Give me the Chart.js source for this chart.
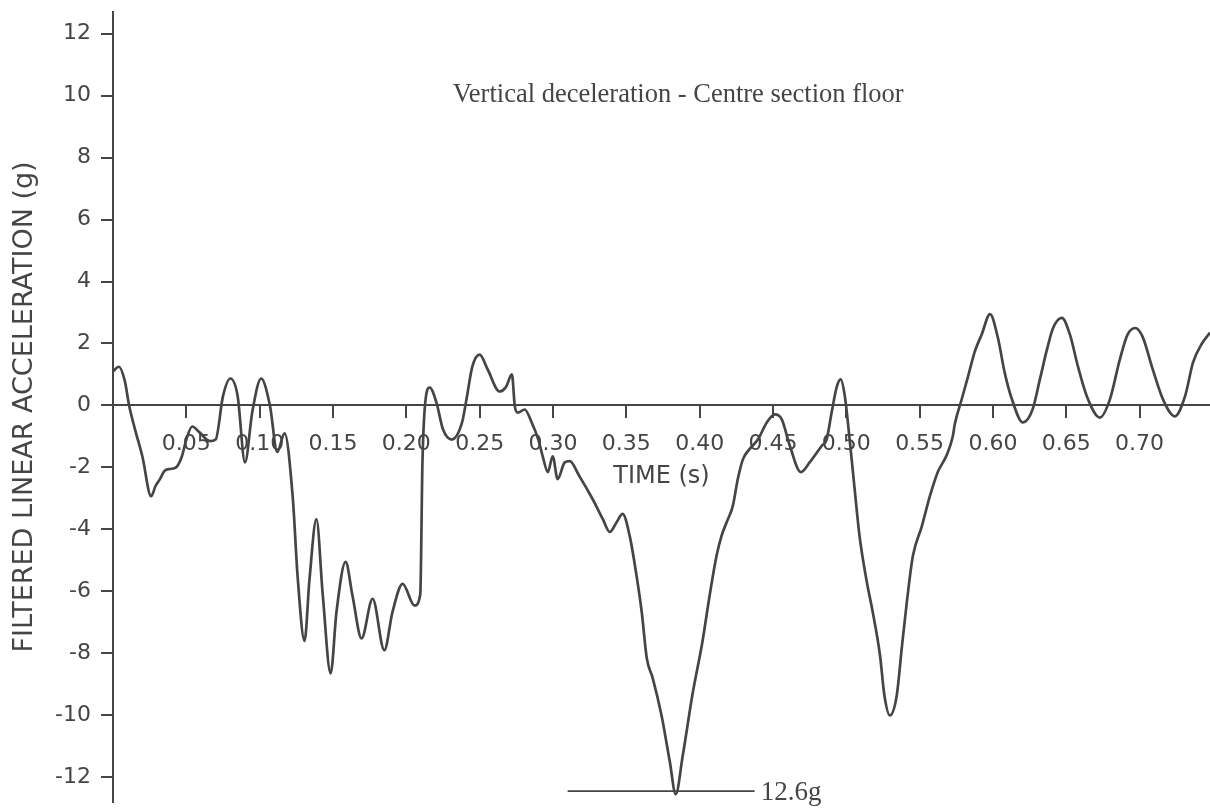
<!DOCTYPE html>
<html>
<head>
<meta charset="utf-8">
<script src="https://cdn.jsdelivr.net/npm/chart.js@4.4.1/dist/chart.umd.min.js"></script>
<style>
  html, body { margin: 0; padding: 0; background: #fff; }
  canvas { display: block; }
</style>
</head>
<body>
<canvas id="chart" width="1210" height="809"></canvas>
<script>
// Time (s) and filtered vertical acceleration (g)
const timeS = [
  0, 0.004, 0.008, 0.011, 0.015, 0.020, 0.026, 0.029, 0.032, 0.035,
  0.039, 0.043, 0.047, 0.050, 0.054, 0.059, 0.066, 0.070, 0.075, 0.080,
  0.085, 0.090, 0.095, 0.101, 0.107, 0.112, 0.117, 0.1225, 0.126, 0.1306,
  0.134, 0.1387, 0.143, 0.1484, 0.1524, 0.1586, 0.1633, 0.1695, 0.177, 0.185,
  0.1906, 0.1975, 0.2056, 0.2095, 0.2110, 0.2124, 0.2159, 0.2205, 0.225, 0.231,
  0.238, 0.241, 0.245, 0.250, 0.2555, 0.2635, 0.268, 0.272, 0.274, 0.276,
  0.2807, 0.2855, 0.290, 0.293, 0.2965, 0.2998, 0.3032, 0.308, 0.3114, 0.318,
  0.327, 0.334, 0.3387, 0.3435, 0.3475, 0.3523, 0.357, 0.3605, 0.364, 0.368,
  0.374, 0.3796, 0.3837, 0.3885, 0.395, 0.402, 0.4068, 0.4115, 0.415, 0.4185,
  0.4226, 0.426, 0.4295, 0.434, 0.4397, 0.4458, 0.4513, 0.456, 0.4615, 0.469,
  0.475, 0.4833, 0.4866, 0.490, 0.4935, 0.4962, 0.499, 0.5023, 0.5057, 0.509,
  0.514, 0.518, 0.523, 0.526, 0.5297, 0.5344, 0.538, 0.5413, 0.5454, 0.5515,
  0.557, 0.5624, 0.5685, 0.5726, 0.574, 0.5787, 0.583, 0.5876, 0.5924, 0.598,
  0.6033, 0.608, 0.613, 0.6204, 0.627, 0.632, 0.6368, 0.641, 0.647, 0.6524,
  0.658, 0.664, 0.6729, 0.6797, 0.6865, 0.6917, 0.697, 0.702, 0.709, 0.716,
  0.724, 0.731, 0.7364, 0.7425, 0.748
];
const accelG = [
  1.1, 1.25, 0.8, 0.0, -0.77, -1.64, -2.93, -2.6, -2.38, -2.12,
  -2.05, -2.0, -1.64, -1.1, -0.68, -0.87, -1.15, -1.1, 0.3, 0.87,
  0.3, -1.84, -0.2, 0.87, 0.0, -1.5, -0.9, -2.93, -5.6, -7.6,
  -5.6, -3.67, -6.1, -8.65, -6.66, -5.05, -6.14, -7.52, -6.24, -7.9,
  -6.66, -5.76, -6.46, -6.1, -1.84, -0.2, 0.58, 0.1, -0.77, -1.1,
  -0.55, 0.19, 1.25, 1.64, 1.16, 0.45, 0.6, 1.0, -0.03, -0.23,
  -0.13, -0.55, -1.1, -1.64, -2.15, -1.64, -2.38, -1.84, -1.8, -2.28,
  -3.02, -3.67, -4.08, -3.76, -3.5, -4.21, -5.5, -6.66, -8.17, -8.8,
  -10.0, -11.48, -12.55, -11.3, -9.36, -7.6, -6.14, -4.86, -4.2, -3.76,
  -3.25, -2.38, -1.74, -1.41, -1.1, -0.55, -0.29, -0.45, -1.3, -2.15,
  -1.84, -1.3, -1.1, -0.23, 0.6, 0.84, 0.3, -1.1, -2.7, -4.2,
  -5.7, -6.66, -8.07, -9.36, -10.0, -9.36, -7.75, -6.34, -4.86, -3.9,
  -2.93, -2.15, -1.6, -1.0, -0.6, 0.2, 0.93, 1.74, 2.3, 2.95,
  2.2, 1.06, 0.19, -0.55, -0.13, 0.84, 1.8, 2.5, 2.83, 2.3,
  1.25, 0.3, -0.39, 0.19, 1.48, 2.28, 2.5, 2.22, 1.16, 0.19,
  -0.35, 0.3, 1.38, 2.0, 2.35
];

// peak marker line and its label
const peakLineTime = [0.31, 0.4375];
const peakLineLevel = [-12.45, -12.45];
const peakLabel = '12.6g';
const chartNote = 'Vertical deceleration - Centre section floor';

const xTickValues = [0.05, 0.10, 0.15, 0.20, 0.25, 0.30, 0.35, 0.40, 0.45, 0.50, 0.55, 0.60, 0.65, 0.70];
const yTickValues = [-12, -10, -8, -6, -4, -2, 0, 2, 4, 6, 8, 10, 12];

const ink = '#454545';

// text drawn inside the plot (note + peak label)
const notesPlugin = {
  id: 'notes',
  afterDatasetsDraw(chart) {
    const { ctx, scales } = chart;
    ctx.save();
    ctx.fillStyle = ink;
    ctx.textAlign = 'left';
    ctx.textBaseline = 'alphabetic';
    ctx.font = '26.5px "Liberation Serif", "Times New Roman", serif';
    ctx.fillText(chartNote, scales.x.getPixelForValue(0.2316), scales.y.getPixelForValue(9.8));
    ctx.font = '27px "Liberation Serif", "Times New Roman", serif';
    ctx.fillText(peakLabel, scales.x.getPixelForValue(peakLineTime[1]) + 6, scales.y.getPixelForValue(peakLineLevel[1]) + 9);
    ctx.restore();
  }
};

// drop the label overhang padding so the plot fills the frame
function noPad(scale) {
  scale.paddingTop = 0;
  scale.paddingBottom = 0;
  scale.paddingLeft = 0;
  scale.paddingRight = 0;
}

const ctx = document.getElementById('chart').getContext('2d');
new Chart(ctx, {
  type: 'line',
  data: {
    datasets: [
      {
        data: timeS.map((t, i) => ({ x: t, y: accelG[i] })),
        borderColor: ink,
        borderWidth: 2.7,
        pointRadius: 0,
        cubicInterpolationMode: 'monotone',
        fill: false
      },
      {
        data: peakLineTime.map((t, i) => ({ x: t, y: peakLineLevel[i] })),
        borderColor: ink,
        borderWidth: 1.6,
        pointRadius: 0,
        fill: false
      }
    ]
  },
  options: {
    responsive: false,
    animation: false,
    layout: { padding: { left: 0, top: 12, right: 0, bottom: 7 } },
    plugins: {
      legend: { display: false },
      tooltip: { enabled: false }
    },
    scales: {
      x: {
        type: 'linear',
        min: 0,
        max: 0.748,
        position: { y: 0 },
        afterBuildTicks: (scale) => { scale.ticks = xTickValues.map(v => ({ value: v })); },
        afterFit: noPad,
        grid: { drawOnChartArea: false, drawTicks: true, tickLength: 12, color: ink, lineWidth: 2 },
        border: { display: true, color: ink, width: 2 },
        ticks: {
          color: ink,
          padding: 14,
          maxRotation: 0,
          autoSkip: false,
          font: { family: '"DejaVu Sans", sans-serif', size: 22 },
          callback: (v) => Number(v).toFixed(2)
        },
        title: {
          display: true,
          text: 'TIME (s)',
          color: ink,
          font: { family: '"DejaVu Sans", sans-serif', size: 24 },
          padding: { top: -9, bottom: 4 }
        }
      },
      y: {
        type: 'linear',
        min: -12.8,
        max: 12.7,
        afterBuildTicks: (scale) => { scale.ticks = yTickValues.map(v => ({ value: v })); },
        afterFit: (scale) => { noPad(scale); scale.width = 113; },
        grid: { drawOnChartArea: false, drawTicks: true, tickLength: 12, color: ink, lineWidth: 2 },
        border: { display: true, color: ink, width: 2 },
        ticks: {
          color: ink,
          padding: 10,
          font: { family: '"DejaVu Sans", sans-serif', size: 22 }
        },
        title: {
          display: true,
          text: 'FILTERED LINEAR ACCELERATION (g)',
          color: ink,
          font: { family: '"DejaVu Sans", sans-serif', size: 27 },
          padding: { top: 9, bottom: 0 }
        }
      }
    }
  },
  plugins: [notesPlugin]
});
</script>
</body>
</html>
